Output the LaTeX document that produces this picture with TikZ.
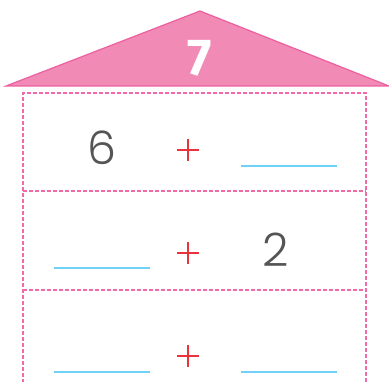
\documentclass[tikz,border=0pt]{standalone}
\usepackage{fontspec}
\setmainfont{Poppins}[UprightFont=* Light]
\newfontfamily\roofnum{Fira Sans}
\definecolor{roofpink}{HTML}{F18AB5}
\definecolor{roofedge}{HTML}{EC5FA0}
\definecolor{dashpink}{HTML}{F06AA8}
\definecolor{plusred}{HTML}{E8323C}
\definecolor{blankblue}{HTML}{6FD2F4}
\definecolor{numgray}{HTML}{555555}
\begin{document}
\begin{tikzpicture}[x=1pt,y=-1pt,
  dashline/.style={draw=dashpink,line width=1.1pt,dash pattern=on 4pt off 2pt},
  blankline/.style={draw=blankblue,line width=2.5pt},
  plusline/.style={draw=plusred,line width=2pt},
  numtext/.style={inner sep=0pt,text=numgray,font=\fontsize{46}{46}\selectfont}]
\useasboundingbox (0,0) rectangle (389,382);
% roof
\coordinate (apex) at (200,11);
\coordinate (rl) at (6,86);
\coordinate (rr) at (389,86);
\fill[roofpink] (rl) -- (apex) -- (rr) -- cycle;
\draw[roofedge,line width=1.2pt,line join=miter] (rl) -- (apex) -- (rr) -- cycle;
\node[inner sep=0pt,text=white,font=\roofnum\bfseries\fontsize{52}{52}\selectfont] (seven) at (200,58) {7};
% dashed house
\draw[dashline] (23,383) -- (23,93) -- (366,93) -- (366,383);
\draw[dashline] (23,191) -- (366,191);
\draw[dashline] (23,290) -- (366,290);
% row 1
\node[numtext] (six) at (102,148) {6};
\draw[plusline] (177,150) -- (199,150);
\draw[plusline] (188,139) -- (188,161);
\draw[blankline] (241,166) -- (337,166);
% row 2
\draw[blankline] (54,268) -- (150,268);
\draw[plusline] (177,253) -- (199,253);
\draw[plusline] (188,242) -- (188,264);
\node[numtext] (two) at (276,250) {2};
% row 3
\draw[blankline] (54,372) -- (150,372);
\draw[plusline] (177,356) -- (199,356);
\draw[plusline] (188,345) -- (188,367);
\draw[blankline] (241,372) -- (337,372);
\end{tikzpicture}
\end{document}
